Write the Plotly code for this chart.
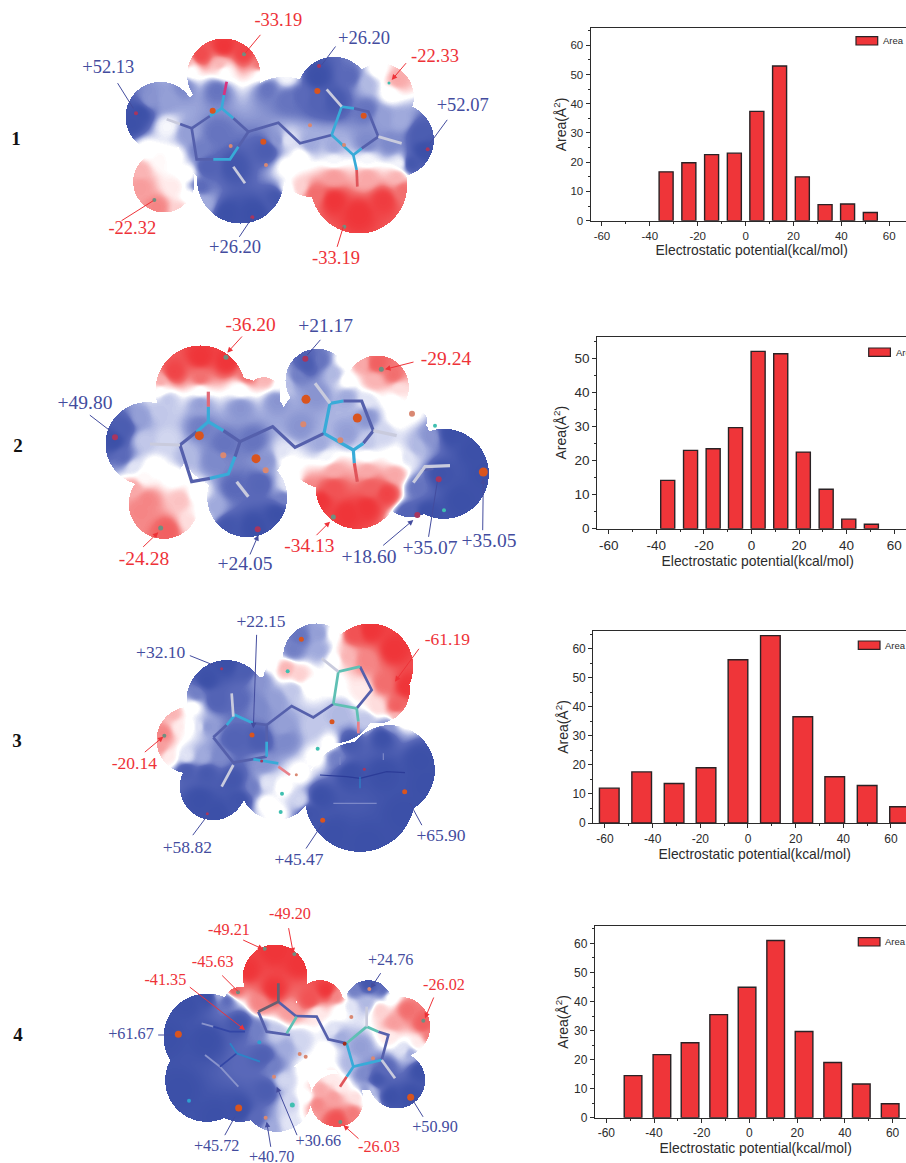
import numpy as np
import plotly.graph_objects as go

# ---------- histogram data ----------
CENTERS_1 = [-33.2, -23.7, -14.2, -4.7, 4.7, 14.2, 23.7, 33.2, 42.6, 52.1]
AREA_1 = [16.7, 19.8, 22.6, 23.1, 37.4, 52.9, 15.0, 5.5, 5.7, 2.8]
CENTERS_2 = [-35.2, -25.6, -16.1, -6.7, 2.8, 12.3, 21.8, 31.4, 40.9, 50.4]
AREA_2 = [14.2, 23.0, 23.5, 29.7, 52.1, 51.4, 22.5, 11.6, 2.8, 1.3]
CENTERS_3 = [-58.2, -44.6, -31.0, -17.6, -4.2, 9.4, 23.0, 36.4, 50.0, 63.6]
AREA_3 = [12.0, 17.6, 13.6, 19.0, 56.2, 64.5, 36.6, 15.9, 12.9, 5.6]
CENTERS_4 = [-48.8, -36.7, -24.9, -12.9, -1.0, 11.0, 22.9, 34.9, 46.9, 59.0]
AREA_4 = [14.5, 21.7, 25.8, 35.5, 44.9, 61.0, 29.7, 19.0, 11.6, 4.8]
X_TICKS = [-60, -40, -20, 0, 20, 40, 60]
X_LABELS = ["-60", "-40", "-20", "0", "20", "40", "60"]
Y_TICKS = [0, 10, 20, 30, 40, 50, 60]
Y_LABELS = ["0", "10", "20", "30", "40", "50", "60"]

# ---------- potential-map labels: (text, x, y) ----------
LABELS_1 = [("-33.19", 835, 65), ("+26.20", 1092, 118), ("-22.33", 1305, 172), ("+52.13", 325, 205),
            ("+52.07", 1388, 320), ("-22.32", 397, 688), ("+26.20", 705, 745), ("-33.19", 1008, 778)]
LABELS_2 = [("-36.20", 752, 78), ("+21.17", 977, 82), ("-29.24", 1338, 180), ("+49.80", 255, 312),
            ("-24.28", 432, 780), ("+24.05", 735, 795), ("-34.13", 928, 740), ("+18.60", 1107, 775),
            ("+35.07", 1290, 748), ("+35.05", 1467, 727)]
LABELS_3 = [("+22.15", 783, 67), ("-61.19", 1342, 122), ("+32.10", 482, 160), ("-20.14", 403, 495),
            ("+58.82", 562, 745), ("+45.47", 897, 782), ("+65.90", 1323, 710)]
LABELS_4 = [("-49.20", 870, 76), ("-49.21", 687, 122), ("-45.63", 638, 220), ("-41.35", 496, 272),
            ("+24.76", 1172, 212), ("-26.02", 1332, 288), ("+61.67", 393, 435), ("+45.72", 650, 770),
            ("+40.70", 815, 805), ("+30.66", 955, 755), ("-26.03", 1137, 775), ("+50.90", 1305, 715)]

# leaders: (x0, y0, x1, y1, sign, arrowhead?)
LEAD_1 = [(785,100,735,160,-1,0),(1010,135,965,195,1,0),(1222,185,1175,240,-1,1),(350,245,400,325,1,0),
          (1345,355,1290,430,1,0),(360,665,460,602,-1,0),(715,715,755,655,1,0),(1010,745,1030,680,-1,0)]
LEAD_2 = [(730,105,682,158,-1,1),(965,115,922,165,1,0),(1245,185,1155,208,-1,1),(265,342,330,392,1,0),
          (425,745,475,697,-1,1),(748,768,775,705,1,1),(945,710,990,665,-1,1),(1145,740,1240,660,1,1),
          (1285,715,1312,545,1,0),(1448,695,1450,535,1,1)]
LEAD_3 = [(770,100,760,385,1,1),(1260,142,1185,245,-1,1),(565,165,640,195,1,0),(430,460,490,410,-1,1),
          (575,710,620,650,1,0),(915,750,965,675,1,0),(1268,680,1230,610,1,0)]
LEAD_4 = [(865,110,880,190,-1,1),(725,148,790,178,-1,1),(662,252,715,305,-1,0),(565,288,735,420,-1,1),
          (1145,245,1112,295,1,1),(1303,318,1275,385,-1,1),(470,435,520,435,1,0),(672,740,705,680,1,0),
          (813,775,800,695,1,1),(893,740,830,590,1,1),(1080,750,1030,705,-1,1),(1272,685,1238,630,1,0)]

# ---------- surface outlines (x, y, r) and colour anchors (x, y, potential) ----------
MASK_1 = [(670,225,110),(480,350,105),(490,545,92),(720,540,130),(700,400,170),(850,380,150),(1075,555,145),
          (1000,280,110),(1140,290,100),(1190,420,110),(1000,420,130),(930,500,90)]
FIELD_1 = [(670,140,-1),(730,160,-.9),(600,165,-.85),(780,195,-.6),(560,190,-.3),(660,195,-.3),
           (570,210,0),(670,212,0),(780,222,0),(860,228,.05),
           (550,260,.45),(650,270,.55),(800,265,.55),(420,340,1),(395,370,1),(450,300,.4),(500,300,.35),(500,380,.05),
           (560,400,.35),(650,400,.55),(600,450,.5),(620,500,.7),(600,560,.6),(700,500,.9),(800,450,.8),(830,420,.4),
           (860,420,.1),(860,300,.55),(900,290,.6),(950,300,.7),(1000,300,.85),(950,230,1),(1050,230,.6),(1100,250,.25),
           (1130,210,0),(1190,240,-.35),(1170,280,0),(1100,330,.55),(1150,350,.35),(1200,360,.3),(1260,400,.8),
           (1270,450,1),(1230,490,.9),(1170,430,.45),(1100,430,.45),(1000,440,.3),(930,430,.3),(900,470,0),
           (1000,480,.05),(1100,480,.05),(1200,490,.05),(1000,530,-.4),(1100,530,-.35),(1190,530,-.3),(900,560,-.2),
           (940,580,-.6),(1000,600,-1),(1075,640,-1),(1150,600,-.95),(1210,570,-.6),(420,510,-.3),(480,480,-.05),
           (440,450,0),(520,470,0),(560,520,0),(570,590,0),(420,560,-.4),(470,620,-.5),(540,630,-.2),(520,560,-.1),
           (610,610,.3),(680,640,1),(760,640,1),(830,590,.9),(860,570,0),(860,500,0)]
MASK_2 = [(600,270,135),(790,280,50),(700,400,170),(440,430,125),(490,610,105),(740,590,120),(950,240,95),
          (1130,260,95),(1000,400,170),(1070,560,125),(1330,520,135),(1230,560,90),(1250,360,30),(1200,420,90)]
FIELD_2 = [(600,170,-1),(520,215,-.9),(680,185,-1),(740,225,-.6),(600,235,-.6),(480,245,-.35),(800,235,-.3),
           (480,268,0),(600,270,0),(720,268,0),(840,250,0),(500,300,.2),(600,310,.35),(720,320,.4),(830,300,.4),
           (860,250,.25),(920,190,.8),(890,230,.5),(960,180,.55),(1000,220,.25),(1030,180,0),(1040,240,0),(950,280,.4),
           (1040,290,.3),(1100,300,.1),(1080,190,-.35),(1130,190,-.7),(1180,225,-.6),(1120,240,-.3),(1195,265,-.15),
           (1180,300,0),(1230,330,0),(340,420,1),(370,380,.8),(370,470,.6),(420,350,.35),(430,420,.2),(400,500,.1),
           (480,330,.2),(500,420,.15),(460,500,0),(600,380,.5),(670,430,.55),(760,420,.55),(800,480,.4),(640,480,.45),
           (560,470,.25),(850,460,.1),(900,380,.4),(960,430,.3),(1040,400,.35),(1100,430,.2),(1150,400,.15),(1190,350,0),
           (1100,350,.4),(860,480,0),(980,470,.05),(1100,465,0),(1190,470,0),(880,540,0),(1000,510,-.35),(1100,510,-.35),
           (1185,520,-.35),(920,560,-.5),(960,600,-1),(1040,640,-1),(1100,620,-1),(1160,580,-.9),(1000,560,-.8),
           (1110,560,-.7),(400,560,-.35),(440,600,-.5),(500,690,-.7),(420,630,-.5),(540,600,-.25),(570,660,-.15),
           (430,530,-.05),(520,530,0),(590,580,0),(600,650,0),(640,620,.3),(680,680,.9),(760,680,1),(830,640,1),
           (850,590,.5),(700,560,.6),(780,550,.65),(860,560,.1),(1220,470,.1),(1250,440,.25),(1290,410,.4),(1350,400,1),
           (1420,450,1),(1450,520,1),(1380,600,1),(1280,640,1),(1220,640,.7),(1250,560,.55),(1320,520,.95)]
MASK_3 = [(680,300,120),(950,170,100),(1110,200,130),(1130,270,100),(570,420,100),(800,400,170),(640,560,100),
          (830,550,110),(1080,590,165),(1170,510,135),(1000,300,130),(860,240,70)]
FIELD_3 = [(680,190,1),(620,240,1),(740,210,.8),(780,240,.4),(590,280,.5),(650,300,.7),(720,300,.6),(780,320,.45),
           (620,380,.4),(700,420,.7),(780,420,.8),(860,420,.45),(660,470,.45),(580,320,0),(600,380,.1),(560,470,.1),
           (610,470,.3),(560,510,.8),(620,520,.85),(600,600,1),(650,640,1),(720,600,.95),(760,560,.5),(700,540,.9),
           (790,490,.4),(850,380,.35),(830,300,.35),(880,270,.2),(800,610,0),(850,560,0),(900,520,0),(950,470,0),
           (990,430,0),(830,640,0),(800,550,.1),(900,600,.15),(810,190,0),(860,205,-.3),(900,225,-.2),(930,260,0),
           (960,100,.35),(900,110,.55),(880,150,.5),(960,150,.3),(1000,100,0),(1005,180,0),(1000,250,0),(1060,100,-.8),
           (1110,90,-1),(1180,150,-1),(1220,260,-1),(1190,320,-.7),(1150,250,-.6),(1100,180,-.5),(1040,170,-.3),
           (1130,320,-.15),(1090,270,-.1),(1190,350,-.3),(1020,340,.25),(940,380,.2),(1100,360,.2),(1170,375,.4),
           (1050,430,.85),(1010,470,.5),(1150,410,1),(1260,480,1),(1280,550,1),(1150,520,1),(1050,520,1),(960,590,1),
           (930,640,.95),(1000,700,1),(1100,730,1),(1210,640,1),(490,400,-.5),(520,340,-.3),(480,440,-.4),(510,470,-.1),
           (540,380,-.1),(570,380,0)]
MASK_4 = [(825,260,97),(960,340,70),(720,340,50),(620,440,130),(620,570,125),(720,590,105),(830,620,105),
          (830,430,110),(1000,430,110),(1105,340,70),(1200,410,90),(1190,570,85),(1010,630,80),(1100,500,100)]
FIELD_4 = [(825,180,-1),(740,240,-1),(900,220,-1),(980,300,-1),(820,300,-1),(700,300,-.7),(930,330,-.8),(1010,320,-.5),
           (780,340,-.5),(870,365,-.4),(950,370,-.1),(1020,360,0),(560,340,1),(620,320,1),(500,440,1),(540,600,1),
           (650,680,1),(720,660,1),(620,450,1),(720,400,.9),(680,330,.6),(660,310,.3),(770,420,.5),(790,500,.75),
           (800,600,.8),(770,690,.6),(820,530,.5),(860,470,.3),(830,430,.2),(900,450,.15),(850,570,.15),(870,640,.15),
           (870,700,.1),(810,715,.3),(920,620,0),(920,540,0),(980,480,0),(960,520,0),(1000,420,.1),(1020,440,.3),
           (1080,470,.35),(1050,520,.25),(1090,550,.45),(1100,600,.4),(1105,280,.9),(1060,300,.5),(1150,300,.6),
           (1050,350,.1),(1100,340,.25),(1170,320,0),(1140,360,-.2),(1220,360,-.6),(1270,400,-.7),(1290,440,-.55),
           (1180,400,-.4),(1170,440,-.1),(1250,460,-.1),(1280,480,0),(1230,490,.3),(1210,480,.1),(1260,540,1),
           (1230,620,1),(1170,620,1),(1130,570,.9),(1160,530,.6),(960,600,-.35),(950,640,-.5),(1010,690,-.8),
           (1060,670,-.55),(1000,620,-.4),(1070,620,-.15),(1110,640,0),(990,560,-.1),(1110,600,.2),(1020,590,-.1)]

# ---------- stick models: colour -> polylines ----------
NAVY, CYAN, TEAL, PALE, PINK, RED = "#5560AC", "#38ABD8", "#5FC0B4", "#C9CBDD", "#D8337E", "#E0555A"
STICK_1 = {NAVY: [[(540,372),(575,385),(590,478),(640,478)],[(715,440),(745,395),(700,355)],[(630,348),(575,385)],
                  [(745,395),(835,368),(900,430),(995,405)],[(1062,325),(1105,335),(1135,410),(1085,445)]],
           CYAN: [[(640,478),(690,478),(715,440)],[(700,355),(665,325),(630,348)],[(665,325),(672,285)],
                  [(995,405),(1025,320),(1062,325)],[(995,405),(1060,465),(1085,445)],[(1060,465),(1070,510)]],
           PINK: [[(672,285),(680,245)]], RED: [[(1070,510),(1072,560)]],
           PALE: [[(700,500),(735,550)],[(540,372),(500,358)],[(1025,320),(980,268)],[(1135,410),(1205,430)]]}
STICK_2 = {NAVY: [[(540,435),(575,545),(630,535)],[(705,470),(720,425),(670,392)],[(590,395),(540,435)],
                  [(720,425),(818,380),(885,442),(972,400)],[(1030,303),(1085,303),(1120,392),(1090,430)],
                  [(1265,510),(1300,505)]],
           CYAN: [[(630,535),(685,522),(705,470)],[(670,392),(625,365),(590,395)],[(625,365),(625,320)],
                  [(972,400),(990,310),(1030,303)],[(972,400),(1060,450),(1090,430)],[(1060,450),(1063,490)]],
           "#E06A78": [[(625,320),(625,275)]], RED: [[(1063,490),(1072,545)]],
           PALE: [[(710,545),(745,590)],[(540,435),(450,432)],[(990,310),(945,250)],[(1120,392),(1190,407)],
                  [(1240,548),(1275,500),(1350,497)]]}
STICK_3 = {NAVY: [[(640,412),(680,375)],[(760,370),(800,375),(800,425)],[(800,470),(700,488),(640,412)],
                  [(800,375),(875,318),(940,352),(1000,312)],[(1080,200),(1115,270),(1070,325)]],
           CYAN: [[(680,375),(705,345),(760,370)],[(800,425),(800,470)],[(760,478),(835,490)]],
           TEAL: [[(1000,312),(1015,215),(1080,200)],[(1070,325),(1000,312)],[(1070,325),(1075,365)]],
           "#E8808A": [[(835,500),(870,525)],[(1075,365),(1075,400)]],
           PALE: [[(700,350),(695,280)],[(700,495),(665,560)],[(1015,215),(965,175)]]}
STICK_3B = {"#7C88C8": [[(1150,460),(1150,480)],[(1020,470),(1020,495)],[(1000,610),(1130,610)]],
            "#2C3C98": [[(960,525),(1040,530),(1080,535),(1160,515),(1215,518)]],
            "#2C84C8": [[(1080,530),(1080,565)]]}
STICK_4 = {NAVY: [[(775,365),(800,425),(870,435)],[(890,380),(835,335)],[(885,378),(950,380),(985,448),(1040,460)],
                  [(1135,425),(1165,435),(1145,510)]],
           "#6A5F70": [[(835,280),(835,335),(775,365)]],
           TEAL: [[(860,430),(890,380)],[(1040,460),(1100,410),(1135,425)]],
           CYAN: [[(1145,510),(1060,530),(1040,460)],[(1060,530),(1040,560)]],
           RED: [[(1040,560),(1020,590)]],
           PALE: [[(1100,410),(1100,350)],[(1145,510),(1185,565)]]}
STICK_4B = {"#8A94CC": [[(605,400),(640,410)],[(660,530),(615,495)],[(660,530),(715,590)]],
            "#3346A6": [[(640,410),(690,425),(735,425)],[(710,490),(660,530)]],
            "#2C84C8": [[(710,490),(690,460)],[(710,490),(780,515)]]}

# ---------- critical-point spheres: (colour, size) -> points ----------
ORANGE, SALMON, MAGENTA, GREY, CYANB, TEALB = "#D9541E", "#D98872", "#A8355E", "#6F8F80", "#2E9FD0", "#3FBFB0"
SPHERE_1 = {(ORANGE,6): [(638,332),(790,425),(952,273),(1091,347)], (SALMON,4): [(692,438),(798,495),(930,376),(1032,435)],
            (MAGENTA,4): [(408,340),(957,198),(757,652),(1283,448)], (GREY,4): [(732,163),(463,600),(1033,680)],
            (TEALB,3): [(1167,249)]}
SPHERE_2 = {(ORANGE,9): [(598,407),(768,476),(918,298),(1072,354),(1450,516)], (SALMON,6): [(670,466),(797,511),(910,373),(1021,421),(1236,341)],
            (MAGENTA,6): [(345,412),(773,688),(916,176),(1316,538),(1252,645)], (GREY,5): [(678,172),(1144,208),(482,684),(1000,651)],
            (TEALB,4): [(1305,377),(1332,631)]}
SPHERE_3 = {(ORANGE,5): [(756,405),(996,365),(1214,575),(968,661),(904,118)], (SALMON,3): [(889,524)],
            (MAGENTA,3): [(665,206),(622,641),(1093,508),(785,483)], (GREY,4): [(493,407)],
            (TEALB,4): [(863,214),(953,446),(846,581),(842,636)]}
SPHERE_4 = {(ORANGE,7): [(535,433),(716,654),(1232,622)], (SALMON,4): [(822,560),(797,683),(899,492),(917,500),(1054,381),(1119,505),(1108,297)],
            ("#A02C1C",4): [(1034,461)], (GREY,4): [(794,176),(883,192),(714,307),(1270,392),(1021,696)],
            (CYANB,4): [(778,457),(567,632)], (TEALB,5): [(877,645)]}

ROWS = [("1", 16, 140), ("2", 18, 447), ("3", 17, 742), ("4", 18, 1036)]

# ---------- figure geometry ----------
W, H = 920, 1163
BAR_RED, EDGE, INK = "#EF3539", "#2A2225", "#2B2B2B"
BLUE_TXT, RED_TXT = "#434C9E", "#EE3238"
SCALE = 1 / 3
COLORSCALE = [[0, "#EF3539"], [.2, "#F26E6E"], [.35, "#FAB4B4"], [.45, "#FFEBEB"], [.485, "#FFFFFF"], [.515, "#FFFFFF"],
              [.55, "#E1E4F5"], [.65, "#A0AADC"], [.8, "#5A69B9"], [1, "#3C50A8"]]

fig = go.Figure()


def add_surface(mask, field, oy):
    m = np.array(mask, float)
    f = np.array(field, float)
    x0 = (m[:, 0] - m[:, 2]).min() * SCALE - 2
    x1 = (m[:, 0] + m[:, 2]).max() * SCALE + 2
    y0 = (m[:, 1] - m[:, 2]).min() * SCALE + oy - 2
    y1 = (m[:, 1] + m[:, 2]).max() * SCALE + oy + 2
    xs = np.arange(x0, x1, 1.0)
    ys = np.arange(y0, y1, 1.0)
    gx, gy = np.meshgrid(xs, ys)
    inside = np.zeros_like(gx, bool)
    for cx, cy, r in m:
        inside |= (gx - cx * SCALE) ** 2 + (gy - cy * SCALE - oy) ** 2 <= (r * SCALE) ** 2
    num = np.zeros_like(gx)
    den = np.zeros_like(gx)
    for ax, ay, v in f:
        w = 1.0 / ((gx - ax * SCALE) ** 2 + (gy - ay * SCALE - oy) ** 2 + 16.0) ** 2
        num += w * v
        den += w
    z = np.round(num / den, 2)
    z_list = [[float(v) if k else None for v, k in zip(rz, ri)] for rz, ri in zip(z, inside)]
    fig.add_trace(go.Heatmap(x=xs.tolist(), y=ys.tolist(), z=z_list, zmin=-1, zmax=1, showscale=False,
                             colorscale=COLORSCALE, hoverinfo="skip", xaxis="x", yaxis="y"))


def add_sticks(sticks, oy, width):
    for color, paths in sticks.items():
        xs, ys = [], []
        for p in paths:
            xs += [a * SCALE for a, _ in p] + [None]
            ys += [b * SCALE + oy for _, b in p] + [None]
        fig.add_trace(go.Scatter(x=xs, y=ys, mode="lines", line=dict(color=color, width=width), hoverinfo="skip",
                                 showlegend=False, xaxis="x", yaxis="y"))


def add_spheres(spheres, oy):
    for (color, size), pts in spheres.items():
        fig.add_trace(go.Scatter(x=[a * SCALE for a, _ in pts], y=[b * SCALE + oy for _, b in pts], mode="markers",
                                 marker=dict(color=color, size=size), hoverinfo="skip", showlegend=False,
                                 xaxis="x", yaxis="y"))


def add_labels(labels, oy, size):
    for sign, color in (("+", BLUE_TXT), ("-", RED_TXT)):
        sel = [l for l in labels if l[0][0] == sign]
        fig.add_trace(go.Scatter(x=[l[1] * SCALE for l in sel], y=[l[2] * SCALE + oy for l in sel], text=[l[0] for l in sel],
                                 mode="text", textposition="middle center",
                                 textfont=dict(family="Liberation Serif", size=size, color=color),
                                 hoverinfo="skip", showlegend=False, xaxis="x", yaxis="y"))


annotations = []
for lead, oy in ((LEAD_1, 0), (LEAD_2, 300), (LEAD_3, 600), (LEAD_4, 890)):
    for x0, y0, x1, y1, sign, head in lead:
        annotations.append(dict(x=x1 * SCALE, y=y1 * SCALE + oy, ax=x0 * SCALE, ay=y0 * SCALE + oy, xref="x", yref="y",
                                axref="x", ayref="y", text="", showarrow=True, arrowhead=2 if head else 0, arrowsize=1.1,
                                arrowwidth=1, standoff=0, arrowcolor=BLUE_TXT if sign > 0 else RED_TXT))

for args in ((MASK_1, FIELD_1, 0), (MASK_2, FIELD_2, 300), (MASK_3, FIELD_3, 600), (MASK_4, FIELD_4, 890)):
    add_surface(*args)
add_sticks(STICK_1, 0, 2.7)
add_sticks(STICK_2, 300, 3.2)
add_sticks(STICK_3, 600, 2.7)
add_sticks(STICK_3B, 600, 1.2)
add_sticks(STICK_4, 890, 2.7)
add_sticks(STICK_4B, 890, 1.8)
for s, oy in ((SPHERE_1, 0), (SPHERE_2, 300), (SPHERE_3, 600), (SPHERE_4, 890)):
    add_spheres(s, oy)
add_labels(LABELS_1, 0, 18.5)
add_labels(LABELS_2, 300, 19.5)
add_labels(LABELS_3, 600, 17.5)
add_labels(LABELS_4, 890, 16.2)

fig.add_trace(go.Scatter(x=[r[1] for r in ROWS], y=[r[2] for r in ROWS], text=[r[0] for r in ROWS],
                         mode="text", textfont=dict(family="Liberation Serif", size=19, color="#111111", weight="bold"),
                         hoverinfo="skip", showlegend=False, xaxis="x", yaxis="y"))

# ---------- histograms ----------
CHARTS = [
    dict(x=CENTERS_1, y=AREA_1, bw=5.85, left=590.7, right=912.7, top=28.3, bottom=220.7, xr=[-64.7, 69.8], ymax=65.8, ts=11.5,
         leg=(856, 36.7), n=7, so=0),
    dict(x=CENTERS_2, y=AREA_2, bw=5.9, left=597.3, right=918, top=336.7, bottom=528.7, xr=[-64.8, 70.0], ymax=56.4, ts=13.5,
         leg=(868.7, 348), n=6, so=4),
    dict(x=CENTERS_3, y=AREA_3, bw=8.25, left=593.3, right=916, top=631, bottom=823, xr=[-64.9, 70.5], ymax=66.1, ts=12,
         leg=(858.3, 641), n=7, so=0),
    dict(x=CENTERS_4, y=AREA_4, bw=7.4, left=595, right=916.4, top=926, bottom=1117.7, xr=[-64.75, 70.0], ymax=66.0, ts=12,
         leg=(858.3, 937.7), n=7, so=2),
]
shapes = []
axes = {}
for i, c in enumerate(CHARTS, start=2):
    xn, yn = "x%d" % i, "y%d" % i
    fig.add_trace(go.Bar(x=c["x"], y=c["y"], width=c["bw"], marker=dict(color=BAR_RED, line=dict(color=EDGE, width=1.4)),
                         name="Area", showlegend=False, xaxis=xn, yaxis=yn))
    tick_font = dict(family="Liberation Sans", size=c["ts"], color=INK)
    axes["xaxis%d" % i] = dict(domain=[c["left"] / W, c["right"] / W], anchor=yn, range=c["xr"],
                               showgrid=False, zeroline=False, showline=True, mirror=True, linecolor=INK, linewidth=1.3,
                               ticks="outside", ticklen=4, tickwidth=1, tickcolor=INK, tickmode="array", tickvals=X_TICKS,
                               ticktext=X_LABELS, tickfont=tick_font,
                               minor=dict(dtick=10, tick0=-50, ticks="outside", ticklen=2, tickcolor=INK),
                               title=dict(text="Electrostatic potential(kcal/mol)", standoff=3,
                                          font=dict(family="Liberation Sans", size=13.9, color=INK)))
    n = c["n"]
    axes["yaxis%d" % i] = dict(domain=[1 - c["bottom"] / H, 1 - c["top"] / H], anchor=xn, range=[0, c["ymax"]], showgrid=False,
                               zeroline=False, showline=True, linecolor=INK, linewidth=1.3, ticks="outside", ticklen=4,
                               tickwidth=1, tickcolor=INK, tickmode="array", tickvals=Y_TICKS[:n], ticktext=Y_LABELS[:n],
                               tickfont=tick_font, minor=dict(dtick=5, tick0=0, ticks="outside", ticklen=2, tickcolor=INK),
                               title=dict(text="Area(Å<sup>2</sup>)", standoff=c["so"],
                                          font=dict(family="Liberation Sans", size=14, color=INK)))
    lx, ly = c["leg"]
    shapes.append(dict(type="rect", xref="paper", yref="paper", x0=lx / W, x1=(lx + 21.7) / W, y0=1 - ly / H, y1=1 - (ly + 8.3) / H,
                       fillcolor=BAR_RED, line=dict(color=EDGE, width=1.2)))
    annotations.append(dict(xref="paper", yref="paper", x=(lx + 25) / W, y=1 - (ly + 4.2) / H, xanchor="left", yanchor="middle",
                            text="Area", showarrow=False, font=dict(family="Liberation Sans", size=9.5, color=INK)))

fig.update_layout(
    width=W, height=H, margin=dict(l=0, r=0, t=0, b=0, autoexpand=False), paper_bgcolor="white", plot_bgcolor="rgba(0,0,0,0)",
    showlegend=False, shapes=shapes, annotations=annotations,
    xaxis=dict(domain=[0, 1], range=[0, W], visible=False, anchor="y"),
    yaxis=dict(domain=[0, 1], range=[H, 0], visible=False, anchor="x"),
    **axes,
)

fig.write_html("out.html", config={"displayModeBar": False},
               post_script="document.documentElement.style.overflow='hidden';document.body.style.margin='0';document.body.style.overflow='hidden';")
